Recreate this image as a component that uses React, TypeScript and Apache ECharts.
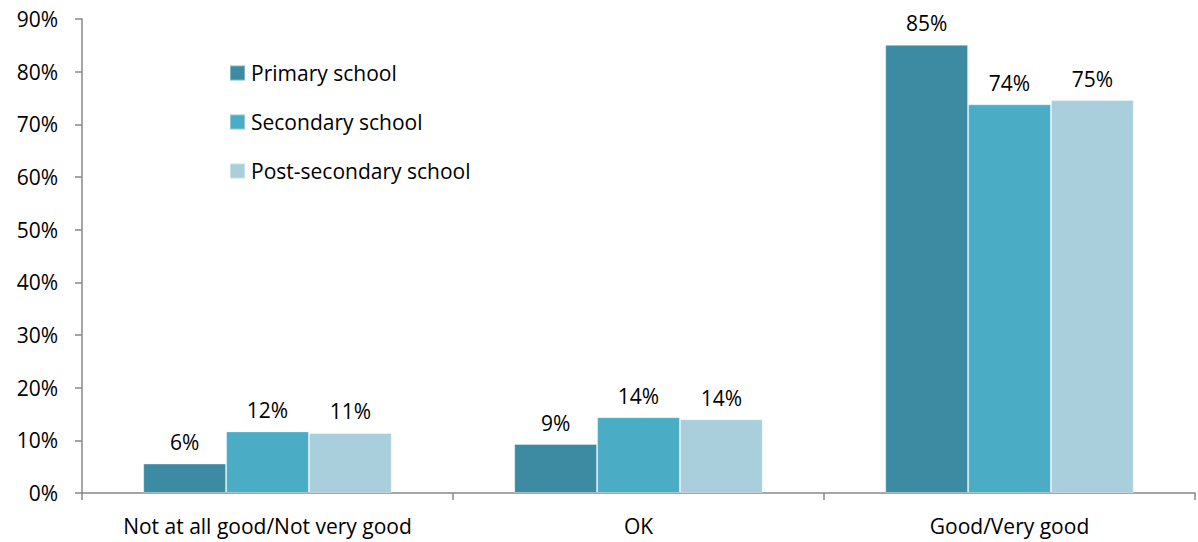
import React, { useEffect, useRef } from "react";
import * as echarts from "echarts";

const categories = ["Not at all good/Not very good", "OK", "Good/Very good"];
const seriesNames = ["Primary school", "Secondary school", "Post-secondary school"];
const primary = [5.6, 9.3, 85.1];
const secondary = [11.7, 14.4, 73.8];
const postSecondary = [11.4, 14.0, 74.6];
const colors = ["#3D8BA3", "#4BACC6", "#A9CFDD"];
const yTicks = [0, 10, 20, 30, 40, 50, 60, 70, 80, 90];

const FONT = "'Open Sans', sans-serif";
const FS = 21;

export default function App() {
  const ref = useRef<HTMLDivElement>(null);
  useEffect(() => {
    if (!ref.current) return;
    const chart = echarts.init(ref.current, undefined, { renderer: "svg" });
    const data = [primary, secondary, postSecondary];
    chart.setOption({
      animation: false,
      textStyle: { fontFamily: FONT },
      grid: { left: 82, right: 3, top: 19, bottom: 49, containLabel: false },
      legend: {
        orient: "vertical",
        left: 229,
        top: 60,
        padding: 0,
        itemWidth: 15,
        itemHeight: 15,
        itemGap: 23,
        icon: "rect",
        textStyle: { fontSize: FS, color: "#000", fontFamily: FONT, padding: [0, 0, 0, 1], lineHeight: 26 },
        data: seriesNames,
      },
      xAxis: {
        type: "category",
        data: categories,
        axisLine: { lineStyle: { color: "#888", width: 1.5 } },
        axisTick: { show: true, length: 7, lineStyle: { color: "#888", width: 1.5 } },
        axisLabel: { color: "#000", fontSize: FS, margin: 22, fontFamily: FONT, interval: 0 },
      },
      yAxis: {
        type: "value",
        min: 0,
        max: 90,
        interval: 10,
        axisLine: { show: true, lineStyle: { color: "#888", width: 1.5 } },
        axisTick: { show: true, length: 7, lineStyle: { color: "#888", width: 1.5 } },
        splitLine: { show: false },
        axisLabel: {
          color: "#000",
          fontSize: FS,
          margin: 24,
          fontFamily: FONT,
          formatter: (v: number) => (yTicks.includes(v) ? v + "%" : ""),
        },
      },
      series: seriesNames.map((name, i) => ({
        name,
        type: "bar",
        data: data[i],
        barGap: "0%",
        barCategoryGap: "33%",
        itemStyle: { color: colors[i], borderColor: "rgba(255,255,255,0.35)", borderWidth: 1 },
        label: {
          show: true,
          position: "top",
          distance: 11,
          color: "#000",
          fontSize: FS,
          fontFamily: FONT,
          formatter: (p: any) => Math.round(p.value) + "%",
        },
      })),
    });
    return () => chart.dispose();
  }, []);
  return <div ref={ref} style={{ width: 1198, height: 542, position: "absolute", left: 0, top: 0 }} />;
}
